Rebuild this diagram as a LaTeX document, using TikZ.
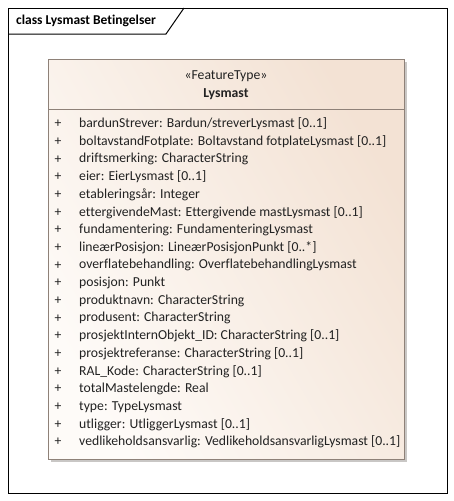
\documentclass[tikz,border=0pt]{standalone}
\usepackage{fontspec}
\setmainfont[Ligatures=NoCommon]{Carlito}
\definecolor{boxborder}{HTML}{8E8178}
\definecolor{boxlight}{HTML}{FEFBF8}
\definecolor{boxdark}{HTML}{F3E2D4}
\definecolor{shadowgray}{HTML}{C9C7C5}
\definecolor{txt}{HTML}{222222}
\tikzset{
  attr/.style={anchor=west, inner sep=0pt, font=\fontsize{13.7}{15}\selectfont, text=txt},
  plus/.style={anchor=center, inner sep=0pt, font=\fontsize{13.7}{15}\selectfont, text=txt},
}
\begin{document}
\begin{tikzpicture}[x=1pt,y=-1pt]
\useasboundingbox (0,0) rectangle (454,501);
\fill[white] (0,0) rectangle (454,501);
% frame
\draw[black, line width=1pt] (8,8) rectangle (447,493);
\draw[black, line width=1pt] (8,34) -- (166,34) -- (184,8);
\node[anchor=west, inner sep=0pt, font=\bfseries\fontsize{13.5}{15}\selectfont] (title) at (16,21) {class Lysmast Betingelser};
% class box shadow
\fill[shadowgray] (51,62) rectangle (407,462);
\shade[left color=boxlight, right color=boxdark, shading angle=120] (48,59) rectangle (404,459);
\draw[boxborder, line width=0.9pt] (48,59) rectangle (404,459);
\draw[boxborder, line width=0.9pt] (48,109) -- (404,109);
\node[inner sep=0pt, font=\fontsize{13.7}{15}\selectfont, text=txt] (stereo) at (226,76) {«FeatureType»};
\node[inner sep=0pt, font=\bfseries\fontsize{13.7}{15}\selectfont, text=txt] (name) at (226,94) {Lysmast};
\foreach \i/\t in {0/{bardunStrever: Bardun/streverLysmast [0..1]},
  1/{boltavstandFotplate: Boltavstand fotplateLysmast [0..1]},
  2/{driftsmerking: CharacterString},
  3/{eier: EierLysmast [0..1]},
  4/{etableringsår: Integer},
  5/{ettergivendeMast: Ettergivende mastLysmast [0..1]},
  6/{fundamentering: FundamenteringLysmast},
  7/{lineærPosisjon: LineærPosisjonPunkt [0..*]},
  8/{overflatebehandling: OverflatebehandlingLysmast},
  9/{posisjon: Punkt},
  10/{produktnavn: CharacterString},
  11/{produsent: CharacterString},
  12/{prosjektInternObjekt\_ID: CharacterString [0..1]},
  13/{prosjektreferanse: CharacterString [0..1]},
  14/{RAL\_Kode: CharacterString [0..1]},
  15/{totalMastelengde: Real},
  16/{type: TypeLysmast},
  17/{utligger: UtliggerLysmast [0..1]},
  18/{vedlikeholdsansvarlig: VedlikeholdsansvarligLysmast [0..1]}}{
  \node[plus] (p\i) at (58,124+17.67*\i) {+};
  \node[attr] (a\i) at (79,124+17.67*\i) {\t};
}
\end{tikzpicture}
\end{document}
